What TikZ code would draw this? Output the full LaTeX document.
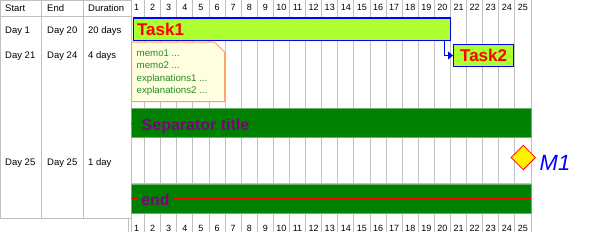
\documentclass[tikz,border=0pt]{standalone}
\usepackage{fontspec}
\setmainfont{Liberation Sans}
\usetikzlibrary{arrows.meta,calc,shapes.geometric}
\definecolor{gridgray}{RGB}{192,192,192}
\definecolor{barfill}{RGB}{173,255,47}
\definecolor{notefill}{RGB}{255,255,224}
\definecolor{noteline}{RGB}{255,160,100}
\definecolor{notetext}{RGB}{34,139,34}
\definecolor{sepgreen}{RGB}{0,128,0}
\definecolor{sepedge}{RGB}{110,175,110}
\definecolor{septext}{RGB}{128,0,128}
\tikzset{
  cell/.style={anchor=base west,inner sep=0pt,font=\fontsize{9.5}{11}\selectfont},
  daynum/.style={anchor=base,inner sep=0pt,font=\fontsize{9}{10}\selectfont},
  taskbar/.style={draw=blue,line width=1.2pt,fill=barfill,text=red,inner ysep=0pt,
    minimum height=22.5pt,font=\fontsize{17}{20}\selectfont\bfseries},
  sepband/.style={fill=sepgreen,draw=sepedge,line width=0.8pt},
  sepline/.style={draw=red,line width=1.2pt},
  septitle/.style={anchor=base west,inner xsep=4.8pt,inner ysep=0pt,
    text=septext,font=\fontsize{16}{18}\selectfont\bfseries},
  tasklink/.style={draw=blue,line width=1.2pt,-{Triangle[length=5pt,width=8pt]}}
}
\begin{document}
\begin{tikzpicture}[x=1pt,y=-1pt]
\useasboundingbox (0,0) rectangle (592,234);
% day columns
\foreach \d in {0,...,25}
  \draw[gridgray,line width=1pt] ({128.5+16.1*\d},0) -- ({128.5+16.1*\d},231.5);
\fill[white] (0,0) rectangle (131,218.5);
\draw[gridgray,line width=1pt] (131,0) -- (131,231.5);
\foreach \d in {1,...,25} {
  \node[daynum] (top\d) at ({128.5+16.1*(\d-0.5)},10) {\d};
  \node[daynum] (bot\d) at ({128.5+16.1*(\d-0.5)},231.7) {\d};
}
% table
\draw[gridgray,line width=1pt] (0.5,0.5) rectangle (131,218.5);
\draw[gridgray,line width=1pt] (41,0.5) -- (41,218.5);
\draw[gridgray,line width=1pt] (83.3,0.5) -- (83.3,218.5);
\draw[gridgray,line width=1pt] (0.5,16.5) -- (131,16.5);
\node[cell] (hstart) at (5,11.5) {Start};
\node[cell] (hend) at (47,11.5) {End};
\node[cell] (hdur) at (88,11.5) {Duration};
\node[cell] (start1) at (5,33.5) {Day 1};
\node[cell] (end1) at (47,33.5) {Day 20};
\node[cell] (dur1) at (88,33.5) {20 days};
\node[cell] (start2) at (5,58.5) {Day 21};
\node[cell] (end2) at (47,58.5) {Day 24};
\node[cell] (dur2) at (88,58.5) {4 days};
\node[cell] (start3) at (5,165) {Day 25};
\node[cell] (end3) at (47,165) {Day 25};
\node[cell] (dur3) at (88,165) {1 day};
% tasks
\node[taskbar,anchor=west,inner xsep=3.5pt,text width=310pt,align=left] (task1) at (133,29.3) {Task1};
\node[taskbar,anchor=west,minimum width=60pt,inner xsep=0pt] (task2) at (453,55.5) {Task2};
\draw[tasklink] ($(task1.south east)+(-6.5,0)$) |- (task2.west);
% note
\draw[noteline,fill=notefill,line width=1pt] (131.5,42) -- (214.5,42) -- (224.5,52)
  -- (224.5,101.5) -- (131.5,101.5) -- cycle;
\node[anchor=north west,inner sep=0pt,align=left,text=notetext,
  font=\fontsize{9.7}{12.4}\selectfont] (memo) at (136.5,49.6)
  {memo1 ...\\memo2 ...\\explanations1 ...\\explanations2 ...};
% separators
\draw[sepband] (131,108) rectangle (531,137.5);
\node[septitle] (septitle) at (136.7,130) {Separator title};
\coordinate (sepmid) at (131,123.5);
\draw[sepline] (sepmid) -- (septitle.west |- sepmid);
\draw[sepline] (septitle.east |- sepmid) -- (531,123.5);
\draw[gridgray,line width=1pt] (131,183) -- (531,183);
\draw[sepband] (131,184) rectangle (531,213);
\node[septitle,inner xsep=4.4pt] (endtitle) at (136.7,205.5) {end};
\coordinate (endmid) at (131,198.5);
\draw[sepline] (endmid) -- (endtitle.west |- endmid);
\draw[sepline] (endtitle.east |- endmid) -- (531,198.5);
% milestone
\node[diamond,aspect=1,draw=red,fill=yellow,line width=0.8pt,inner sep=0pt,
  minimum width=24.6pt,minimum height=24.6pt] (m1) at (523.3,157.5) {};
\node[anchor=base west,inner sep=0pt,text=blue,font=\fontsize{22}{24}\selectfont\itshape]
  (m1label) at (539.5,170.5) {M1};
\end{tikzpicture}
\end{document}
